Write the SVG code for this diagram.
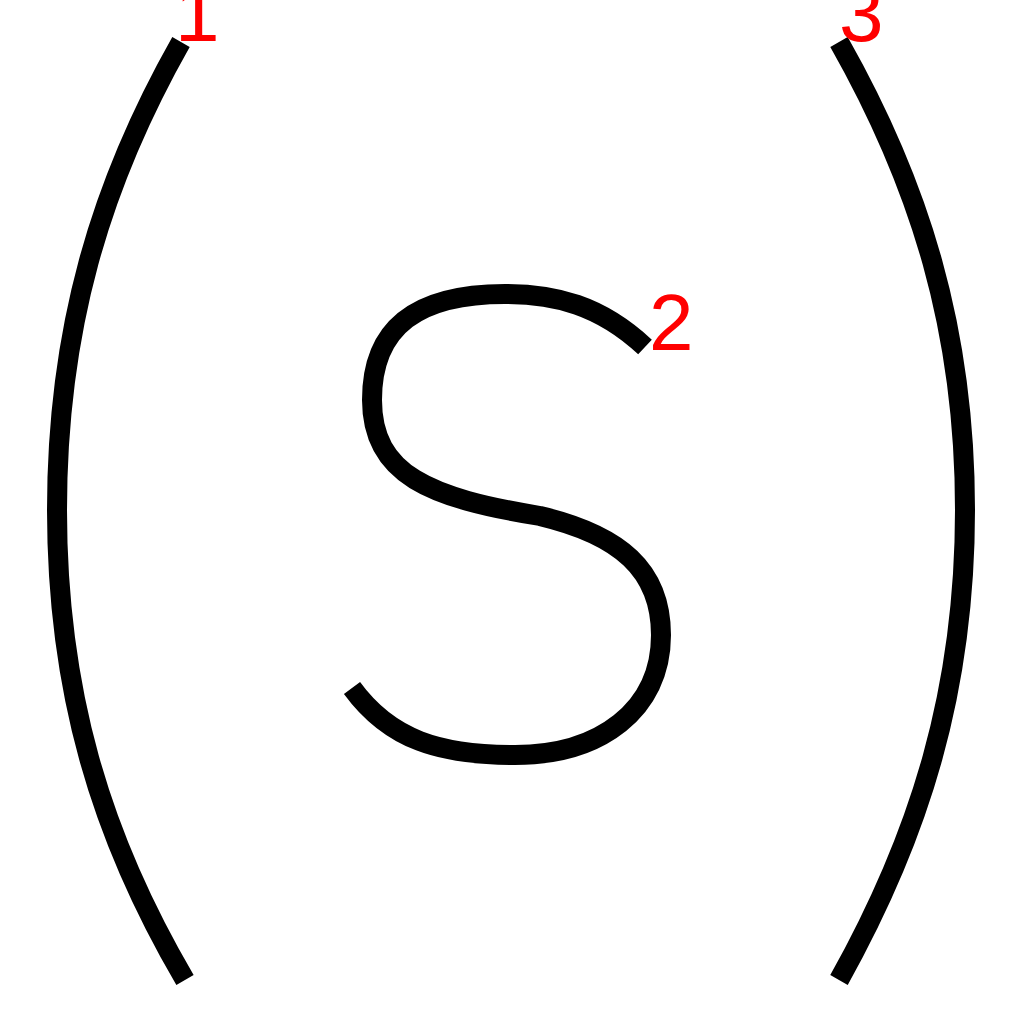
<svg xmlns="http://www.w3.org/2000/svg" width="1024" height="1024" viewBox="0 0 1024 1024">
<style>
.stroke{fill:none;stroke:#000;stroke-width:20;stroke-linecap:butt;stroke-linejoin:round}
.num{fill:#ff0000;font-family:"Liberation Sans",Arial,sans-serif;font-size:80px}
</style>
<rect width="1024" height="1024" fill="#fff"/>
<g id="stroke1"><path class="stroke" d="M181,42 C100,185 57,330 57,510 C57,690 100,835 185,980"/></g>
<g id="stroke2"><path class="stroke" d="M645,347 C600,305 555,294 505,294 C420,294 372,325 372,400 C372,475 430,498 540,516 C620,535 661,570 661,635 C661,710 600,755 515,755 C440,755 390,740 352,688"/></g>
<g id="stroke3"><path class="stroke" d="M839,42 C920,185 965,330 965,510 C965,690 920,835 839,980"/></g>
<g id="labels">
<text class="num" x="175" y="41">1</text>
<text class="num" x="649" y="350">2</text>
<text class="num" x="839" y="41">3</text>
</g>
</svg>
